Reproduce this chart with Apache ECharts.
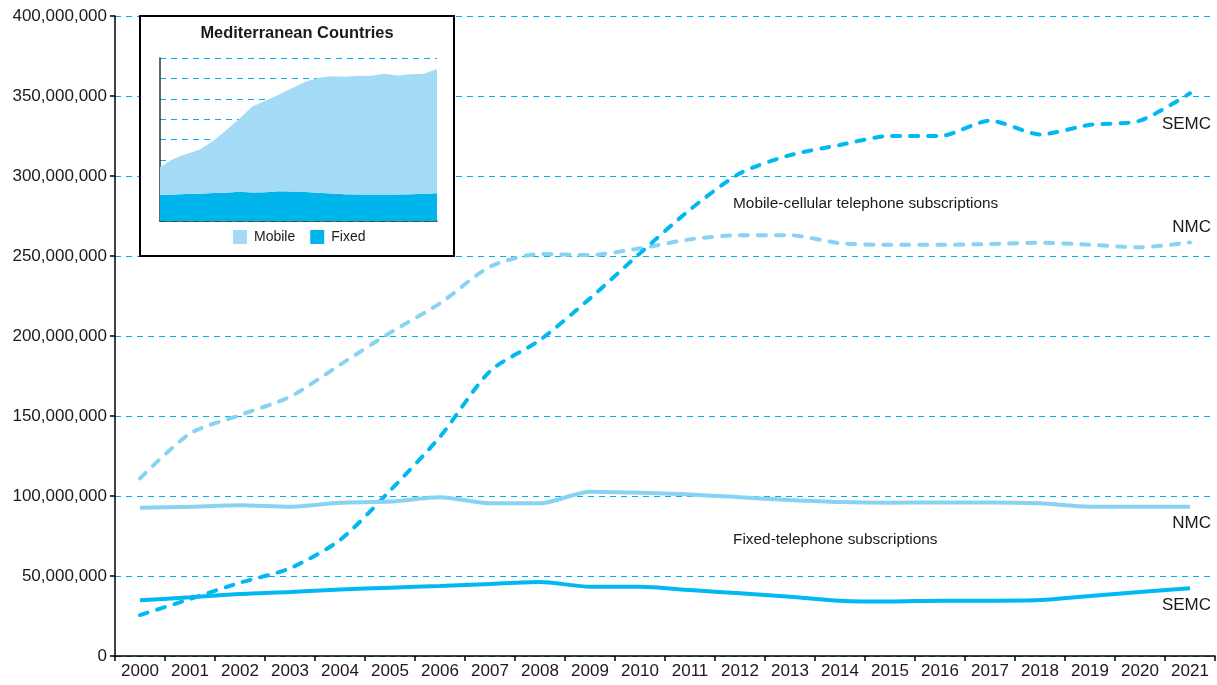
<!DOCTYPE html>
<html><head><meta charset="utf-8">
<script src="https://cdn.jsdelivr.net/npm/echarts@6/dist/echarts.min.js"></script>
<style>html,body{margin:0;padding:0;background:#fff}#c{width:1217px;height:685px}</style>
</head><body><div id="c"></div>
<script>
// values in millions of subscriptions
const UNIT = 1e6;
const years = ['2000','2001','2002','2003','2004','2005','2006','2007','2008','2009','2010','2011','2012','2013','2014','2015','2016','2017','2018','2019','2020','2021'];
const mobileSEMC = [25.6,35.6,45.8,54.8,72.5,103.3,137,178,197.5,223.5,251.7,279,301.7,313,319.4,325,325,334.6,326,332,334.6,351.7];
const mobileNMC  = [111,139,150.6,162,182,202,220.4,243.3,251.2,250.6,254.8,260.4,263,263,258,257,257,257.5,258.3,257,255.4,258.5];
const fixedNMC   = [92.7,93.3,94.2,93.3,95.8,96.5,99.2,95.4,95.4,102.7,102,101,99.2,97.5,96.2,95.8,96,96,95.4,93.3,93.3,93.3];
const fixedSEMC  = [34.8,36.7,38.75,40,41.5,42.7,43.75,45,46.25,43.3,43.3,41.25,39.2,37.1,34.6,34,34.6,34.6,35,37.5,40,42.3];
const yTicks = {min: 0, max: 400, step: 50};
const insetTicks = {min: 0, max: 800, step: 100};

const toUnits = a => a.map(v => v * UNIT);
const sumArr = (a, b) => a.map((v, i) => v + b[i]);
const mobileTotal = sumArr(mobileSEMC, mobileNMC);
const fixedTotal = sumArr(fixedSEMC, fixedNMC);

const DARK = '#00b9f1', LIGHT = '#88d2f4', GRID = '#00aeef';
const FONT = '"Liberation Sans", Arial, Helvetica, sans-serif';

const chart = echarts.init(document.getElementById('c'), null, {renderer: 'canvas'});
function lineSeries(name, data, color, dashed) {
  return {
    name, type: 'line', xAxisIndex: 0, yAxisIndex: 0, data: toUnits(data),
    showSymbol: false, symbol: 'none', smooth: 0.25, z: 2,
    lineStyle: {color, width: 4, type: dashed ? [8, 10] : 'solid', cap: dashed ? 'round' : 'butt'},
    itemStyle: {color}
  };
}
function txt(x, y, text, size, align, weight) {
  return {type: 'text', x, y, z: 10, style: {text, fontSize: size, fontWeight: weight || 'normal', fontFamily: FONT, fill: '#1a1a1a', textAlign: align, textVerticalAlign: 'middle'}};
}

chart.setOption({
  animation: false,
  textStyle: {fontFamily: FONT},
  grid: [
    {left: 115, right: 2, top: 16, bottom: 29, containLabel: false},
    {left: 160, top: 58, width: 277, height: 163, containLabel: false}
  ],
  xAxis: [
    {type: 'category', gridIndex: 0, data: years, boundaryGap: true, z: 0,
     axisLine: {lineStyle: {color: '#000', width: 1.5}},
     axisTick: {show: true, length: 5, lineStyle: {color: '#000', width: 1.5}},
     axisLabel: {fontSize: 17, color: '#1a1a1a', margin: 7, fontFamily: FONT}},
    {type: 'category', gridIndex: 1, data: years, boundaryGap: false, z: 3,
     axisLine: {lineStyle: {color: '#333', width: 1.5}},
     axisTick: {show: false}, axisLabel: {show: false}}
  ],
  yAxis: [
    {type: 'value', gridIndex: 0, min: yTicks.min * UNIT, max: yTicks.max * UNIT, interval: yTicks.step * UNIT, z: 0,
     axisLine: {show: true, lineStyle: {color: '#000', width: 1.5}},
     axisTick: {show: true, length: 5, lineStyle: {color: '#000', width: 1.5}},
     axisLabel: {fontSize: 17, color: '#1a1a1a', margin: 8, fontFamily: FONT,
                 formatter: v => Math.round(v).toLocaleString('en-US')},
     splitLine: {show: true, lineStyle: {color: GRID, width: 1, type: [6, 5]}}},
    {type: 'value', gridIndex: 1, min: insetTicks.min * UNIT, max: insetTicks.max * UNIT, interval: insetTicks.step * UNIT, z: 3,
     axisLine: {show: true, lineStyle: {color: '#333', width: 1.5}},
     axisTick: {show: false}, axisLabel: {show: false},
     splitLine: {show: true, lineStyle: {color: GRID, width: 1, type: [6, 5]}}}
  ],
  legend: {
    data: ['Mobile', 'Fixed'], left: 228, top: 225, z: 10,
    icon: 'rect', itemWidth: 14, itemHeight: 14, itemGap: 15,
    textStyle: {fontSize: 14, color: '#1a1a1a', fontFamily: FONT, padding: [0, 0, 0, 2]}
  },
  graphic: [
    {type: 'rect', z: 1, shape: {x: 140, y: 16, width: 314, height: 240},
     style: {fill: '#fff', stroke: '#000', lineWidth: 2}},
    txt(297, 33, 'Mediterranean Countries', 16.4, 'center', 'bold'),
    txt(733, 204, 'Mobile-cellular telephone subscriptions', 15.4, 'left'),
    txt(733, 540, 'Fixed-telephone subscriptions', 15.4, 'left'),
    txt(1211, 124, 'SEMC', 17, 'right'),
    txt(1211, 227, 'NMC', 17, 'right'),
    txt(1211, 523, 'NMC', 17, 'right'),
    txt(1211, 605, 'SEMC', 17, 'right')
  ],
  series: [
    lineSeries('Mobile NMC', mobileNMC, LIGHT, true),
    lineSeries('Mobile SEMC', mobileSEMC, DARK, true),
    lineSeries('Fixed NMC', fixedNMC, LIGHT, false),
    lineSeries('Fixed SEMC', fixedSEMC, DARK, false),
    {name: 'Fixed', type: 'line', xAxisIndex: 1, yAxisIndex: 1, stack: 'total', data: toUnits(fixedTotal),
     showSymbol: false, symbol: 'none', z: 4, lineStyle: {width: 0}, itemStyle: {color: '#00b5ec'},
     areaStyle: {color: '#00b5ec', opacity: 1}},
    {name: 'Mobile', type: 'line', xAxisIndex: 1, yAxisIndex: 1, stack: 'total', data: toUnits(mobileTotal),
     showSymbol: false, symbol: 'none', z: 4, lineStyle: {width: 0}, itemStyle: {color: '#a3daf6'},
     areaStyle: {color: '#a3daf6', opacity: 1}}
  ]
});
</script></body></html>
